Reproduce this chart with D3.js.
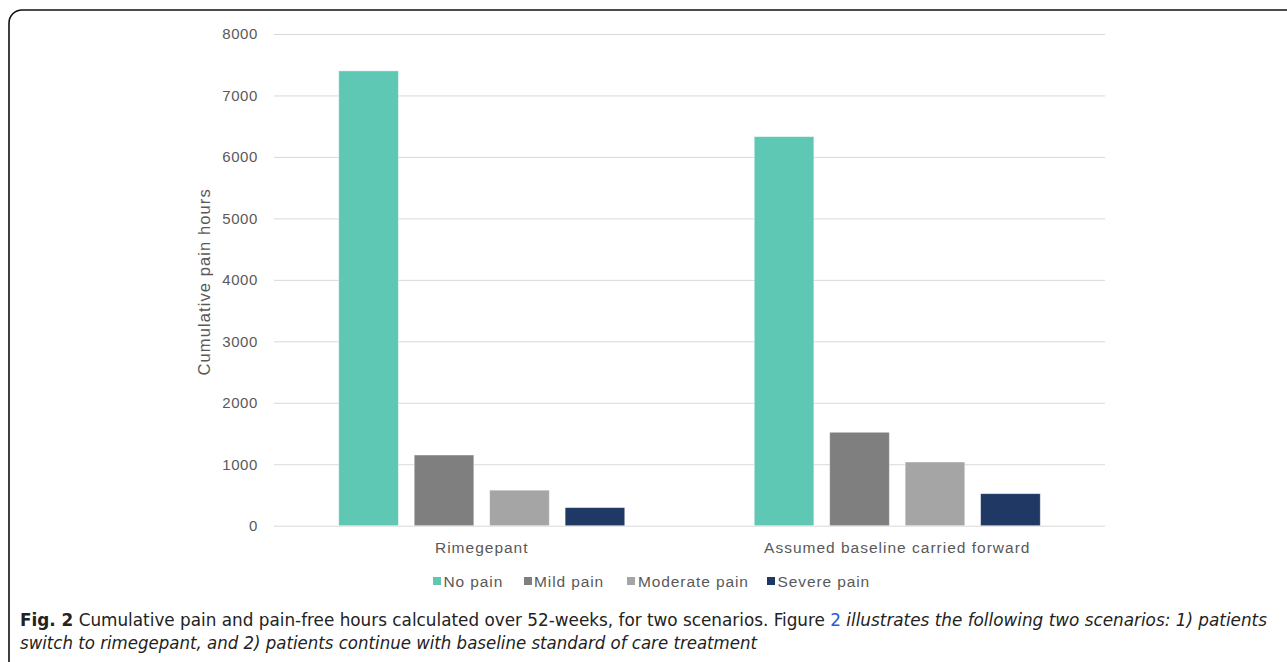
<!DOCTYPE html>
<html>
<head>
<meta charset="utf-8">
<script src="https://cdn.jsdelivr.net/npm/d3@7"></script>
<style>
  html, body { margin: 0; padding: 0; background: #fff; }
  svg { display: block; }
</style>
</head>
<body>
<svg id="chart" width="1287" height="662"></svg>
<script>
// Cumulative hours per pain state over 52 weeks, for two scenarios
const scenarios = ["Rimegepant", "Assumed baseline carried forward"];
const painStates = ["No pain", "Mild pain", "Moderate pain", "Severe pain"];
const rimegepantHours = [7400, 1150, 578, 294];
const baselineHours = [6330, 1520, 1036, 521];
const yTicks = [0, 1000, 2000, 3000, 4000, 5000, 6000, 7000, 8000];
const stateColors = ["#5ec8b4", "#7f7f7f", "#a5a5a5", "#1f3864"];

const seriesByScenario = [rimegepantHours, baselineHours];

const svg = d3.select("#chart");
const font = "'Liberation Sans', Arial, sans-serif";

// Figure frame
svg.append("rect")
  .attr("x", 9).attr("y", 10)
  .attr("width", 1300).attr("height", 680)
  .attr("rx", 13).attr("ry", 13)
  .attr("fill", "none").attr("stroke", "#111").attr("stroke-width", 1.6);

const plot = { left: 274, right: 1105, top: 34, bottom: 525.7 };

const x0 = d3.scaleBand().domain(scenarios).range([plot.left, plot.right]).paddingInner(0).paddingOuter(0);
const y = d3.scaleLinear().domain([0, 8000]).range([plot.bottom, plot.top]);

// Inner band: four bars with gaps, group centered in each category
const groupFrac = 286 / 415.5;
const x1 = d3.scaleBand().domain(painStates)
  .range([0, x0.bandwidth() * groupFrac])
  .paddingInner(0.21).paddingOuter(0);
const groupOffset = (x0.bandwidth() - x0.bandwidth() * groupFrac) / 2;

// Gridlines and tick labels
const yAxis = d3.axisLeft(y).tickValues(yTicks).tickSize(-(plot.right - plot.left)).tickPadding(16).tickFormat(d3.format("d"));
const gy = svg.append("g").attr("transform", `translate(${plot.left},0)`).call(yAxis);
gy.select(".domain").remove();
gy.selectAll(".tick line").attr("stroke", "#d9d9d9").attr("stroke-width", 1);
gy.selectAll(".tick text")
  .attr("fill", "#595959").attr("font-family", font).attr("font-size", 15)
  .attr("letter-spacing", 0.6);

// Bars
const groups = svg.append("g").selectAll("g")
  .data(scenarios)
  .join("g")
  .attr("transform", d => `translate(${x0(d) + groupOffset},0)`);

groups.selectAll("rect")
  .data((d, i) => painStates.map((s, j) => ({ state: s, value: seriesByScenario[i][j], color: stateColors[j] })))
  .join("rect")
  .attr("x", d => x1(d.state))
  .attr("width", x1.bandwidth())
  .attr("y", d => y(d.value))
  .attr("height", d => y(0) - y(d.value))
  .attr("fill", d => d.color)
  .attr("stroke", "#ffffff").attr("stroke-opacity", 0.5).attr("stroke-width", 0.8);

// Category labels
const xAxis = d3.axisBottom(x0).tickSize(0).tickPadding(16);
const gx = svg.append("g").attr("transform", `translate(0,${plot.bottom})`).call(xAxis);
gx.select(".domain").remove();
gx.selectAll(".tick text").attr("fill", "#595959").attr("font-family", font).attr("font-size", 15.5)
  .attr("letter-spacing", 1.0);

// Axis title
svg.append("text")
  .attr("transform", `translate(210,${(plot.top + plot.bottom) / 2 + 2}) rotate(-90)`)
  .attr("text-anchor", "middle")
  .attr("fill", "#595959").attr("font-family", font).attr("font-size", 16.5)
  .attr("letter-spacing", 1.1)
  .text("Cumulative pain hours");

// Legend
const legendMarkX = [433, 524, 627, 767];
const legendTextX = [443.5, 534, 638, 777.5];
const legend = svg.append("g").selectAll("g")
  .data(painStates)
  .join("g");
legend.append("rect")
  .attr("x", (d, i) => legendMarkX[i]).attr("y", 577).attr("width", 8).attr("height", 8)
  .attr("fill", (d, i) => stateColors[i]);
legend.append("text")
  .attr("x", (d, i) => legendTextX[i]).attr("y", 586.5)
  .attr("fill", "#595959").attr("font-family", font).attr("font-size", 15.5)
  .attr("letter-spacing", 0.9)
  .text(d => d);

// Caption
const capFont = "'Liberation Sans Narrow', 'DejaVu Sans Condensed', 'Liberation Sans', sans-serif";
const cap1 = svg.append("text")
  .attr("x", 20).attr("y", 626)
  .attr("font-family", capFont).attr("font-size", 18).attr("fill", "#222")
  .attr("textLength", 1247).attr("lengthAdjust", "spacingAndGlyphs");
cap1.append("tspan").attr("font-weight", "bold").text("Fig. 2");
cap1.append("tspan").text(" Cumulative pain and pain-free hours calculated over 52-weeks, for two scenarios. Figure ");
cap1.append("tspan").attr("fill", "#2a5bd7").text("2");
cap1.append("tspan").attr("font-style", "italic").text(" illustrates the following two scenarios: 1) patients");

svg.append("text")
  .attr("x", 20).attr("y", 649)
  .attr("font-family", capFont).attr("font-size", 18).attr("fill", "#222")
  .attr("font-style", "italic")
  .attr("textLength", 737).attr("lengthAdjust", "spacingAndGlyphs")
  .text("switch to rimegepant, and 2) patients continue with baseline standard of care treatment");
</script>
</body>
</html>
